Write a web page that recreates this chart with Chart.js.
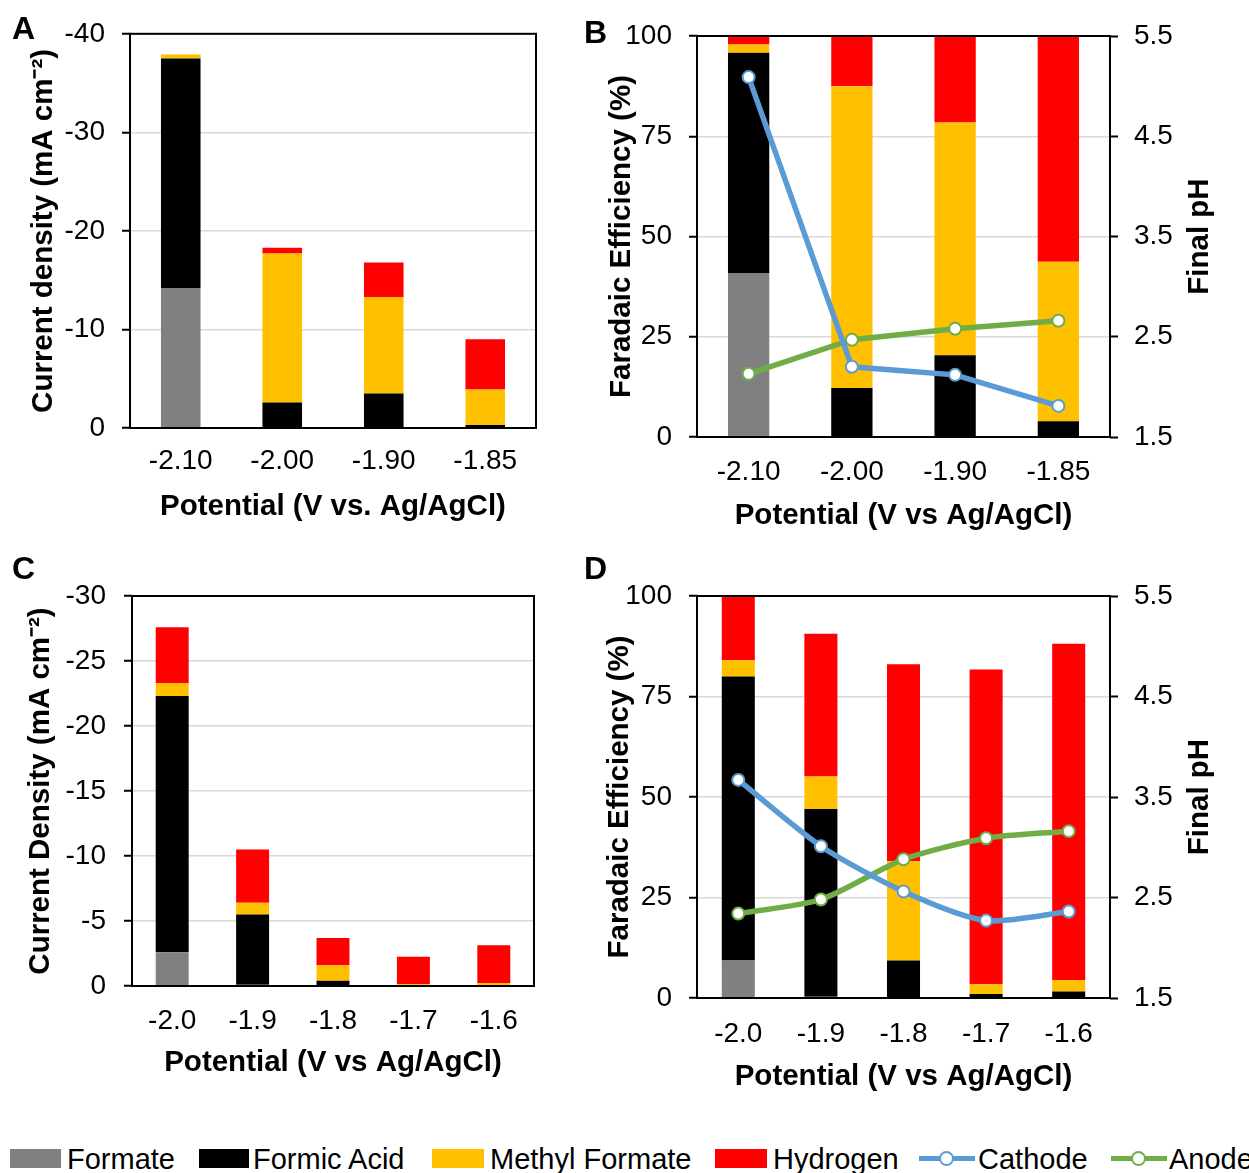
<!DOCTYPE html>
<html>
<head>
<meta charset="utf-8">
<script src="https://cdn.jsdelivr.net/npm/chart.js@4.4.1/dist/chart.umd.min.js"></script>
<style>
  html, body { margin: 0; padding: 0; background: #fff; }
  body { width: 1249px; height: 1173px; position: relative; overflow: hidden;
         font-family: "Liberation Sans", Arial, sans-serif; color: #000; }
  canvas { position: absolute; }
  .tag { position: absolute; font-weight: bold; font-size: 32px; line-height: 32px; }
  .leg { position: absolute; top: 1145px; font-size: 29px; line-height: 29px; white-space: nowrap; }
  .sw { position: absolute; top: 1149px; height: 19px; }
  .ln { position: absolute; top: 1156px; height: 5px; }
  .dot { position: absolute; top: 1151px; width: 11px; height: 11px; border-radius: 50%;
         background: #fff; border: 2px solid; }
</style>
</head>
<body>
<canvas id="chartA" width="560" height="540" style="left:0;top:0"></canvas>
<canvas id="chartB" width="669" height="545" style="left:580px;top:0"></canvas>
<canvas id="chartC" width="560" height="540" style="left:0;top:550px"></canvas>
<canvas id="chartD" width="669" height="560" style="left:580px;top:550px"></canvas>

<div class="tag" style="left:12px;top:12px">A</div>
<div class="tag" style="left:584px;top:16px">B</div>
<div class="tag" style="left:12px;top:552px">C</div>
<div class="tag" style="left:584px;top:552px">D</div>

<!-- legend -->
<div class="sw" style="left:10px;width:51px;background:#808080"></div>
<div class="leg" style="left:67px">Formate</div>
<div class="sw" style="left:199px;width:50px;background:#000"></div>
<div class="leg" style="left:253px">Formic Acid</div>
<div class="sw" style="left:432px;width:52px;background:#FFC000"></div>
<div class="leg" style="left:490px">Methyl Formate</div>
<div class="sw" style="left:715px;width:52px;background:#FF0000"></div>
<div class="leg" style="left:773px">Hydrogen</div>
<div class="ln" style="left:919px;width:56px;background:#5B9BD5"></div>
<div class="dot" style="left:939px;border-color:#5B9BD5"></div>
<div class="leg" style="left:978px">Cathode</div>
<div class="ln" style="left:1111px;width:56px;background:#70AD47"></div>
<div class="dot" style="left:1131px;border-color:#70AD47"></div>
<div class="leg" style="left:1169px">Anode</div>

<script>
// categories
const potentialsAB = ["-2.10", "-2.00", "-1.90", "-1.85"];
const potentialsCD = ["-2.0", "-1.9", "-1.8", "-1.7", "-1.6"];

// A - current density (mA cm-2)
const aFormate = [-14.2, 0, 0, 0];
const aFormicAcid = [-23.3, -2.6, -3.5, -0.3];
const aMethylFormate = [-0.4, -15.1, -9.8, -3.6];
const aHydrogen = [0, -0.6, -3.5, -5.1];

// B - faradaic efficiency (%) and final pH
const bFormate = [40.9, 0, 0, 0];
const bFormicAcid = [54.9, 12.2, 20.4, 3.9];
const bMethylFormate = [2.1, 75.3, 58.0, 39.8];
const bHydrogen = [2.1, 12.5, 21.6, 56.3];
const bCathode = [5.09, 2.20, 2.12, 1.81];
const bAnode = [2.13, 2.47, 2.58, 2.66];

// C - current density (mA cm-2)
const cFormate = [-2.6, -0.1, 0, 0, 0];
const cFormicAcid = [-19.7, -5.4, -0.4, -0.05, -0.08];
const cMethylFormate = [-1.0, -0.9, -1.2, -0.1, -0.15];
const cHydrogen = [-4.3, -4.1, -2.1, -2.1, -2.9];

// D - faradaic efficiency (%) and final pH
const dFormate = [9.3, 0.3, 0, 0, 0];
const dFormicAcid = [70.7, 46.7, 9.3, 1.0, 1.6];
const dMethylFormate = [4.0, 8.1, 24.7, 2.4, 2.9];
const dHydrogen = [16.0, 35.5, 49.0, 78.3, 83.6];
const dCathode = [3.67, 3.01, 2.56, 2.27, 2.36];
const dAnode = [2.34, 2.48, 2.88, 3.09, 3.16];

// tick labels
const ticksA = [-40, -30, -20, -10, 0];
const ticksC = [-30, -25, -20, -15, -10, -5, 0];
const ticksFE = [0, 25, 50, 75, 100];
const ticksPH = [1.5, 2.5, 3.5, 4.5, 5.5];

const FONT = '"Liberation Sans", Arial, sans-serif';
Chart.defaults.font.family = FONT;
Chart.defaults.color = "#000";

const colors = {
  formate: "#808080",
  formic: "#000000",
  methyl: "#FFC000",
  hydrogen: "#FF0000",
  cathode: "#5B9BD5",
  anode: "#70AD47"
};

// black box round the plot area
const frame = {
  id: "frame",
  afterDatasetsDraw(chart) {
    const { ctx, chartArea: a } = chart;
    ctx.save();
    ctx.strokeStyle = "#000";
    ctx.lineWidth = 2;
    ctx.strokeRect(a.left, a.top, a.right - a.left, a.bottom - a.top);
    ctx.restore();
  }
};

// right axis title, reading bottom to top
const rightTitle = {
  id: "rightTitle",
  afterDraw(chart, args, opts) {
    if (!opts || !opts.text) return;
    const { ctx, chartArea } = chart;
    ctx.save();
    ctx.translate(opts.x, (chartArea.top + chartArea.bottom) / 2);
    ctx.rotate(-Math.PI / 2);
    ctx.font = "bold 29.5px " + FONT;
    ctx.fillStyle = "#000";
    ctx.textAlign = "center";
    ctx.textBaseline = "middle";
    ctx.fillText(opts.text, 0, 0);
    ctx.restore();
  }
};

function barSet(label, data, color) {
  return { type: "bar", label, data, backgroundColor: color, borderWidth: 0, order: 1 };
}

function lineSet(label, data, color, tension) {
  return {
    type: "line", label, data, yAxisID: "y1", order: 0,
    borderColor: color, borderWidth: 5.5, tension,
    pointRadius: 6, pointBorderWidth: 2,
    pointBackgroundColor: "#fff", pointBorderColor: color
  };
}

function makeChart(id, g, labels, datasets) {
  const scales = {
    x: {
      stacked: true,
      offset: true,
      grid: { display: false, drawTicks: false },
      border: { display: false },
      ticks: { font: { size: 28 }, padding: g.xTickPad, maxRotation: 0 },
      title: { display: true, text: g.xTitle, font: { size: 29.5, weight: "bold" },
               padding: { top: 0, bottom: g.xTitlePad } },
      afterFit: s => { s.height = g.xHeight; }
    },
    y: {
      stacked: true,
      reverse: g.reverse,
      min: g.yTicks[0],
      max: g.yTicks[g.yTicks.length - 1],
      afterBuildTicks: s => { s.ticks = g.yTicks.map(v => ({ value: v })); },
      grid: { color: "#d9d9d9", lineWidth: 1.5, tickLength: 8, tickColor: "#000", tickWidth: 2 },
      border: { display: false },
      ticks: { font: { size: 28 }, padding: g.yTickPad, callback: v => String(v) },
      title: { display: true, text: g.yTitle, font: { size: 29.5, weight: "bold" },
               padding: { top: g.yTitlePad, bottom: 0 } },
      afterFit: s => { s.width = g.yWidth; }
    }
  };
  if (g.y1Width) {
    scales.y1 = {
      position: "right",
      min: ticksPH[0],
      max: ticksPH[ticksPH.length - 1],
      afterBuildTicks: s => { s.ticks = ticksPH.map(v => ({ value: v })); },
      grid: { drawOnChartArea: false, tickLength: 8, tickColor: "#000", tickWidth: 2 },
      border: { display: false },
      ticks: { font: { size: 28 }, padding: 16, callback: v => v.toFixed(1) },
      afterFit: s => { s.width = g.y1Width; }
    };
  }
  datasets.forEach(d => {
    if (d.type === "bar") {
      d.barPercentage = g.barPct;
      d.categoryPercentage = 1;
    }
  });
  return new Chart(document.getElementById(id), {
    data: { labels, datasets },
    options: {
      responsive: false,
      animation: false,
      layout: { padding: { top: g.padTop, right: g.padRight, left: 0, bottom: 0 } },
      plugins: {
        legend: { display: false },
        tooltip: { enabled: false },
        rightTitle: g.rightTitle || {}
      },
      scales
    },
    plugins: [frame, rightTitle]
  });
}

makeChart("chartA", {
  padTop: 27, padRight: 24, yWidth: 130, xHeight: 112,
  xTickPad: 16, xTitlePad: 15, yTickPad: 17, yTitlePad: 26,
  barPct: 0.39, reverse: true, yTicks: ticksA,
  xTitle: "Potential (V vs. Ag/AgCl)", yTitle: "Current density (mA cm\u207B\u00B2)"
}, potentialsAB, [
  barSet("Formate", aFormate, colors.formate),
  barSet("Formic Acid", aFormicAcid, colors.formic),
  barSet("Methyl Formate", aMethylFormate, colors.methyl),
  barSet("Hydrogen", aHydrogen, colors.hydrogen)
]);

makeChart("chartB", {
  padTop: 36, padRight: 0, yWidth: 117, y1Width: 139, xHeight: 108,
  xTickPad: 18, xTitlePad: 11, yTickPad: 17, yTitlePad: 24,
  barPct: 0.40, reverse: false, yTicks: ticksFE,
  xTitle: "Potential (V vs Ag/AgCl)", yTitle: "Faradaic Efficiency (%)",
  rightTitle: { text: "Final pH", x: 620 }
}, potentialsAB, [
  lineSet("Cathode", bCathode, colors.cathode, 0),
  lineSet("Anode", bAnode, colors.anode, 0),
  barSet("Formate", bFormate, colors.formate),
  barSet("Formic Acid", bFormicAcid, colors.formic),
  barSet("Methyl Formate", bMethylFormate, colors.methyl),
  barSet("Hydrogen", bHydrogen, colors.hydrogen)
]);

makeChart("chartC", {
  padTop: 46, padRight: 26, yWidth: 132, xHeight: 104,
  xTickPad: 18, xTitlePad: 9, yTickPad: 18, yTitlePad: 23,
  barPct: 0.41, reverse: true, yTicks: ticksC,
  xTitle: "Potential (V vs Ag/AgCl)", yTitle: "Current Density (mA cm\u207B\u00B2)"
}, potentialsCD, [
  barSet("Formate", cFormate, colors.formate),
  barSet("Formic Acid", cFormicAcid, colors.formic),
  barSet("Methyl Formate", cMethylFormate, colors.methyl),
  barSet("Hydrogen", cHydrogen, colors.hydrogen)
]);

makeChart("chartD", {
  padTop: 46, padRight: 0, yWidth: 117, y1Width: 139, xHeight: 112,
  xTickPad: 19, xTitlePad: 15, yTickPad: 17, yTitlePad: 22,
  barPct: 0.40, reverse: false, yTicks: ticksFE,
  xTitle: "Potential (V vs Ag/AgCl)", yTitle: "Faradaic Efficiency (%)",
  rightTitle: { text: "Final pH", x: 620 }
}, potentialsCD, [
  lineSet("Cathode", dCathode, colors.cathode, 0.25),
  lineSet("Anode", dAnode, colors.anode, 0.25),
  barSet("Formate", dFormate, colors.formate),
  barSet("Formic Acid", dFormicAcid, colors.formic),
  barSet("Methyl Formate", dMethylFormate, colors.methyl),
  barSet("Hydrogen", dHydrogen, colors.hydrogen)
]);
</script>
</body>
</html>
